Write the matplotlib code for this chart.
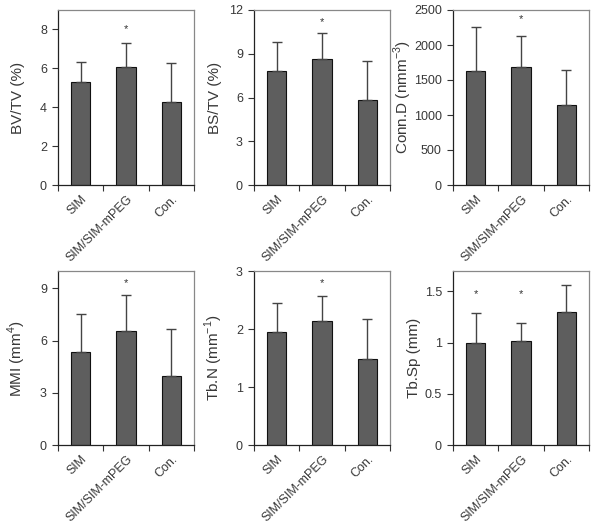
import matplotlib
matplotlib.use("Agg")
import matplotlib.pyplot as plt
import numpy as np

plt.rcParams['font.family'] = ['Liberation Sans', 'DejaVu Sans']
plt.rcParams['mathtext.fontset'] = 'dejavusans'

categories = ["SIM", "SIM/SIM-mPEG", "Con."]

ylabels = ["BV/TV (%)", "BS/TV (%)", r"Conn.D (nmm$^{\mathregular{-3}}$)",
           r"MMI (mm$^{\mathregular{4}}$)", r"Tb.N (mm$^{\mathregular{-1}}$)", "Tb.Sp (mm)"]

means = [
    [5.29, 6.08, 4.27],
    [7.85, 8.62, 5.84],
    [1630, 1692, 1140],
    [5.37, 6.58, 3.95],
    [1.94, 2.14, 1.49],
    [1.00, 1.02, 1.30],
]
upper_err = [
    [1.06, 1.20, 2.00],
    [1.96, 1.81, 2.64],
    [628, 432, 504],
    [2.17, 2.03, 2.73],
    [0.50, 0.43, 0.68],
    [0.29, 0.17, 0.26],
]
# significance markers: 1 = asterisk shown above that bar
stars = [
    [0, 1, 0],
    [0, 1, 0],
    [0, 1, 0],
    [0, 1, 0],
    [0, 1, 0],
    [1, 1, 0],
]
star_y = [8.0, 11.2, 2365, 9.29, 2.8, 1.47]
ylims = [9, 12, 2500, 10, 3, 1.7]
yticks = [
    [0, 2, 4, 6, 8],
    [0, 3, 6, 9, 12],
    [0, 500, 1000, 1500, 2000, 2500],
    [0, 3, 6, 9],
    [0, 1, 2, 3],
    [0, 0.5, 1, 1.5],
]
yticklabels = [
    ["0", "2", "4", "6", "8"],
    ["0", "3", "6", "9", "12"],
    ["0", "500", "1000", "1500", "2000", "2500"],
    ["0", "3", "6", "9"],
    ["0", "1", "2", "3"],
    ["0", "0.5", "1", "1.5"],
]

fig = plt.figure(figsize=(6.0, 5.28), dpi=100)
W, H = 600.0, 528.0
lefts = [58, 254, 453]
rows = [(10, 185), (271, 445)]
aw = 136
label_off = [40.5, 39, 50, 41, 40, 39]

text_col = "#383838"
x = np.arange(len(categories))

for i in range(6):
    r, c = divmod(i, 3)
    top, bot = rows[r]
    ax = fig.add_axes([lefts[c] / W, 1 - bot / H, aw / W, (bot - top) / H])
    ax.bar(x, means[i], width=0.42, color="#5e5e5e", edgecolor="#111111",
           linewidth=0.8, zorder=2)
    ax.errorbar(x, means[i], yerr=[np.zeros(3), upper_err[i]], fmt="none",
                ecolor="#444444", elinewidth=1.0, capsize=3.5, capthick=1.0,
                zorder=3)
    for j in range(3):
        if stars[i][j]:
            ax.text(x[j], star_y[i], "*", ha="center", va="center",
                    fontsize=8, color="#333333")
    ax.set_xlim(-0.5, 2.5)
    ax.set_ylim(0, ylims[i])
    ax.set_yticks(yticks[i])
    ax.set_yticklabels(yticklabels[i], fontsize=9, color=text_col)
    ax.set_xticks(x)
    ax.set_xticklabels(categories, rotation=45, ha="right",
                       rotation_mode="anchor", fontsize=9, color=text_col)
    ax.tick_params(axis="x", which="major", length=0, pad=6)
    ax.set_xticks([-0.5, 0.5, 1.5, 2.5], minor=True)
    ax.tick_params(axis="x", which="minor", length=4, width=0.8,
                   color="#333333", direction="out")
    ax.tick_params(axis="y", length=4, width=0.8, color="#333333",
                   direction="out", pad=4)
    ax.set_ylabel(ylabels[i], fontsize=11, color=text_col, va="center")
    ax.yaxis.set_label_coords(-label_off[i] / aw, 0.5)
    for s in ["left", "bottom"]:
        ax.spines[s].set_color("#222222")
        ax.spines[s].set_linewidth(0.9)
    for s in ["top", "right"]:
        ax.spines[s].set_color("#888888")
        ax.spines[s].set_linewidth(0.9)

fig.savefig("out.png", dpi=100)
